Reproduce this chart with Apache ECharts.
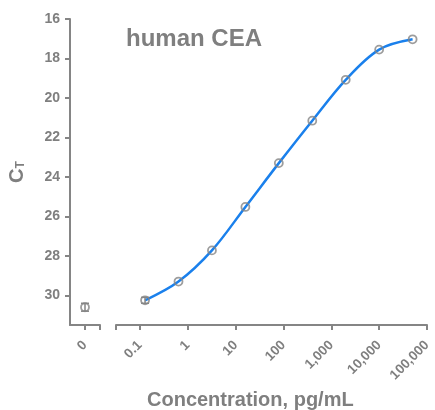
<!DOCTYPE html>
<html><head><meta charset="utf-8">
<script src="https://cdn.jsdelivr.net/npm/echarts@6/dist/echarts.min.js"></script>
<style>html,body{margin:0;padding:0;background:#fff}#c{width:435px;height:410px}</style>
</head><body><div id="c"></div>
<script>
// ---- data ----
const concentrations = [0.128, 0.64, 3.2, 16, 80, 400, 2000, 10000, 50000];
const ctValues = [30.25, 29.3, 27.72, 25.52, 23.3, 21.15, 19.08, 17.55, 17.03];
const ctErrors = [0.15, 0, 0, 0, 0, 0, 0, 0, 0];
const blankConc = [0];
const blankCt = [30.6];
const blankErr = [0.2];
const yTicks = [16, 18, 20, 22, 24, 26, 28, 30];
const xTickValues = [0.1, 1, 10, 100, 1000, 10000, 100000];
const xTickLabels = ['0.1', '1', '10', '100', '1,000', '10,000', '100,000'];
const blankLabel = '0';

const GRAY = '#858585';
const TXT = '#7f7f7f';
const BLUE = '#1a80ec';
const FONT = 'Liberation Sans, Arial, sans-serif';

const chart = echarts.init(document.getElementById('c'), null, {renderer: 'canvas'});

function errRender(params, api) {
  const x = api.value(0), y = api.value(1), e = api.value(2);
  if (!e) return null;
  const top = api.coord([x, y - e]);
  const bot = api.coord([x, y + e]);
  const hw = 4;
  const style = {stroke: GRAY, lineWidth: 1.5};
  return {type: 'group', children: [
    {type: 'line', shape: {x1: top[0], y1: top[1], x2: bot[0], y2: bot[1]}, style},
    {type: 'line', shape: {x1: top[0]-hw, y1: top[1], x2: top[0]+hw, y2: top[1]}, style},
    {type: 'line', shape: {x1: bot[0]-hw, y1: bot[1], x2: bot[0]+hw, y2: bot[1]}, style}
  ]};
}

const axisLineStyle = {onZero: false, lineStyle: {color: GRAY, width: 2}};
const labelStyle = {color: TXT, fontFamily: FONT, fontWeight: 'bold', fontSize: 14};

const option = {
  animation: false,
  title: [
    {text: 'human CEA', left: 126, top: 27, padding: 0,
     textStyle: {color: TXT, fontFamily: FONT, fontWeight: 'bold', fontSize: 24}},
    {text: 'Concentration, pg/mL', left: 147, top: 390, padding: 0,
     textStyle: {color: TXT, fontFamily: FONT, fontWeight: 'bold', fontSize: 20}}
  ],
  grid: [
    {left: 70, top: 19, width: 30, height: 306},
    {left: 116, top: 19, width: 311, height: 306}
  ],
  xAxis: [
    {gridIndex: 0, type: 'value', min: -1, max: 1, interval: 1,
     axisLine: axisLineStyle, splitLine: {show: false},
     axisTick: {length: 5, lineStyle: {color: GRAY, width: 2}, customValues: [0, 1]},
     axisLabel: Object.assign({}, labelStyle, {fontSize: 13.5, rotate: 45, margin: 18, customValues: [0], formatter: () => blankLabel})},
    {gridIndex: 1, type: 'log', logBase: 10, min: Math.pow(10, -1.5), max: 100000,
     axisLine: axisLineStyle, splitLine: {show: false},
     axisTick: {length: 5, lineStyle: {color: GRAY, width: 2}},
     axisLabel: Object.assign({}, labelStyle, {fontSize: 13.5, rotate: 45, margin: 18, formatter: function (v) {
       for (let i = 0; i < xTickValues.length; i++) {
         if (Math.abs(Math.log10(v) - Math.log10(xTickValues[i])) < 0.01) return xTickLabels[i];
       }
       return '';
     }})}
  ],
  yAxis: [
    {gridIndex: 0, type: 'value', inverse: true, min: 16, max: 31.5, interval: 2,
     axisLine: {show: true, onZero: false, lineStyle: {color: GRAY, width: 2}}, splitLine: {show: false},
     axisTick: {show: true, length: 5, lineStyle: {color: GRAY, width: 2}, customValues: yTicks},
     axisLabel: Object.assign({}, labelStyle, {margin: 10, customValues: yTicks}),
     name: '{a|C}{b|T}', nameLocation: 'middle', nameGap: 43, nameRotate: 90,
     nameTextStyle: {rich: {
       a: {color: TXT, fontFamily: FONT, fontWeight: 'bold', fontSize: 20},
       b: {color: TXT, fontFamily: FONT, fontWeight: 'bold', fontSize: 12, verticalAlign: 'bottom', lineHeight: 12}
     }}},
    {gridIndex: 1, type: 'value', inverse: true, min: 16, max: 31.5, show: false}
  ],
  series: [
    {type: 'line', xAxisIndex: 1, yAxisIndex: 1, smooth: 0.35, symbol: 'none',
     lineStyle: {color: BLUE, width: 2.5}, z: 2,
     data: concentrations.map((c, i) => [c, ctValues[i]])},
    {type: 'scatter', xAxisIndex: 1, yAxisIndex: 1, symbol: 'circle', symbolSize: 8,
     itemStyle: {color: 'rgba(255,255,255,0)', borderColor: GRAY, borderWidth: 1.8}, z: 3,
     data: concentrations.map((c, i) => [c, ctValues[i]])},
    {type: 'custom', xAxisIndex: 1, yAxisIndex: 1, renderItem: errRender, z: 4,
     data: concentrations.map((c, i) => [c, ctValues[i], ctErrors[i]])},
    {type: 'scatter', xAxisIndex: 0, yAxisIndex: 0, symbol: 'circle', symbolSize: 8,
     itemStyle: {color: 'rgba(255,255,255,0)', borderColor: GRAY, borderWidth: 1.8}, z: 3,
     data: blankConc.map((c, i) => [c, blankCt[i]])},
    {type: 'custom', xAxisIndex: 0, yAxisIndex: 0, renderItem: errRender, z: 4,
     data: blankConc.map((c, i) => [c, blankCt[i], blankErr[i]])}
  ]
};
chart.setOption(option);
</script></body></html>
